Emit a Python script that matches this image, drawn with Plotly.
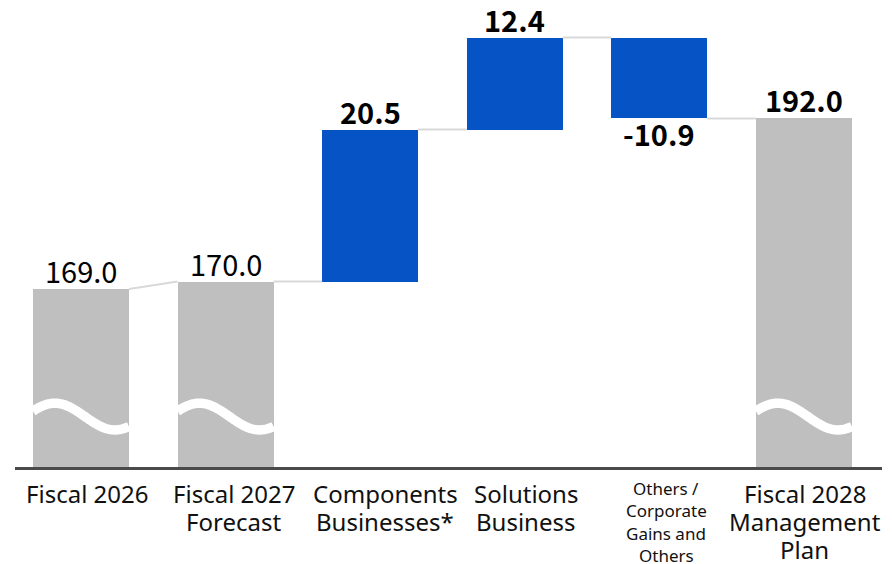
import plotly.graph_objects as go
import numpy as np

categories = ["Fiscal 2026", "Fiscal 2027<br>Forecast", "Components<br>Businesses*",
              "Solutions<br>Business", "Others /<br>Corporate<br>Gains and<br>Others",
              "Fiscal 2028<br>Management<br>Plan"]
category_font_sizes = [24, 24, 24, 24, 17, 24]
category_line_gap = [28, 28, 28, 28, 22.3, 28]
category_xshift = [6, 8, 15, 11, 7, 1]
kinds = ["total", "total", "delta", "delta", "delta", "total"]
values = [169.0, 170.0, 20.5, 12.4, -10.9, 192.0]
labels = ["169.0", "170.0", "20.5", "12.4", "-10.9", "192.0"]

GRAY = "#bfbfbf"
BLUE = "#0553c5"
AXIS_MIN, AXIS_MAX = 145, 205
BAR_W = 0.664

bases, heights, tops, colors = [], [], [], []
running = 0.0
for k, v in zip(kinds, values):
    if k == "total":
        bases.append(0)
        heights.append(v)
        running = v
        colors.append(GRAY)
    else:
        bases.append(running)
        heights.append(v)
        running = running + v
        colors.append(BLUE)
    tops.append(running)

xs = list(range(len(categories)))
fig = go.Figure()
fig.add_trace(go.Bar(x=xs, y=heights, base=bases, width=BAR_W,
                     marker=dict(color=colors, line=dict(width=0)),
                     hoverinfo="skip", showlegend=False))

# connectors
for i in range(len(xs) - 1):
    fig.add_trace(go.Scatter(x=[xs[i] + BAR_W / 2, xs[i + 1] - BAR_W / 2],
                             y=[tops[i], tops[i + 1] if kinds[i + 1] == "total" else tops[i]],
                             mode="lines", line=dict(color="#d9d9d9", width=2),
                             hoverinfo="skip", showlegend=False))

# axis-break waves on the total bars (crest on the left, trough on the right)
for i, k in enumerate(kinds):
    if k != "total":
        continue
    wx = np.linspace(xs[i] - BAR_W / 2, xs[i] + BAR_W / 2, 80)
    wy = 151.8 + 1.8 * np.cos(2 * np.pi * (wx - xs[i] + 0.18) / 0.83)
    fig.add_trace(go.Scatter(x=wx, y=wy, mode="lines",
                             line=dict(color="white", width=9.5, simplify=False),
                             hoverinfo="skip", showlegend=False))

# value labels
for i, (k, v, t) in enumerate(zip(kinds, values, labels)):
    neg = v < 0
    fig.add_annotation(x=xs[i], y=tops[i], text=t, showarrow=False,
                       yanchor="top" if neg else "bottom",
                       yshift=8 if neg else -4,
                       font=dict(family="Noto Sans CJK JP", size=29, color="#000000",
                                 weight="normal" if i < 2 else "bold"))

# category labels, one annotation per line
for i, (c, fs) in enumerate(zip(categories, category_font_sizes)):
    for j, line in enumerate(c.split("<br>")):
        fig.add_annotation(x=xs[i], y=0, yref="paper", text=line, showarrow=False,
                           yanchor="top", xanchor="center",
                           yshift=-8 - category_line_gap[i] * j,
                           xshift=category_xshift[i],
                           font=dict(family="Noto Sans", size=fs, color="#111111"))

# the page body adds an 8px offset, so the figure is 8px smaller than the window
fig.update_layout(
    width=884, height=556,
    margin=dict(l=7, r=10, t=14, b=97),
    paper_bgcolor="white", plot_bgcolor="white",
    bargap=0,
    xaxis=dict(range=[-0.456, 5.54], showticklabels=False, automargin=False,
               showline=True, linecolor="#4a4a4a", linewidth=3, ticks="",
               showgrid=False, zeroline=False),
    yaxis=dict(range=[AXIS_MIN, AXIS_MAX], visible=False, showgrid=False,
               zeroline=False, automargin=False),
)

fig.write_html("out.html")
